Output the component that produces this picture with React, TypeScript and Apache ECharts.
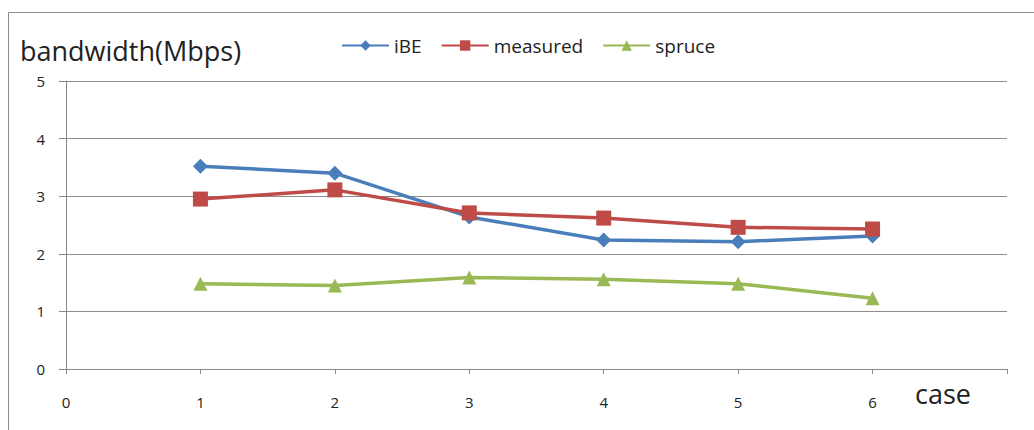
import React, { useEffect, useRef } from "react";
import * as echarts from "echarts";

const cases = [1, 2, 3, 4, 5, 6];
const iBE = [3.52, 3.4, 2.64, 2.24, 2.21, 2.31];
const measured = [2.95, 3.11, 2.71, 2.62, 2.46, 2.43];
const spruce = [1.48, 1.45, 1.59, 1.56, 1.48, 1.23];
const xTicks = [0, 1, 2, 3, 4, 5, 6, 7];
const yTicks = [0, 1, 2, 3, 4, 5];

const pairs = (ys: number[]) => cases.map((c, i) => [c, ys[i]]);

export default function App() {
  const ref = useRef<HTMLDivElement>(null);

  useEffect(() => {
    if (!ref.current) return;
    const chart = echarts.init(ref.current, undefined, { renderer: "svg" });
    const font = "'Open Sans', 'DejaVu Sans', sans-serif";
    const lineSeries = (name: string, data: number[], color: string, symbol: string, size: number) => ({
      name,
      type: "line",
      data: pairs(data),
      symbol,
      symbolSize: size,
      lineStyle: { color, width: 3.5 },
      itemStyle: { color },
    });
    chart.setOption({
      animation: false,
      backgroundColor: "#ffffff",
      textStyle: { fontFamily: font },
      graphic: [
        {
          type: "rect",
          shape: { x: 8.5, y: 12.5, width: 1040, height: 440 },
          style: { fill: "none", stroke: "#8c8c8c", lineWidth: 1 },
          silent: true,
          z: -1,
        },
      ],
      legend: {
        left: 336,
        top: 31,
        itemWidth: 47,
        itemHeight: 13,
        itemGap: 19,
        textStyle: { fontSize: 19, color: "#222", fontFamily: font },
        data: ["iBE", "measured", "spruce"],
      },
      grid: { left: 66, right: 27, top: 81, bottom: 61, containLabel: false },
      xAxis: {
        type: "value",
        min: xTicks[0],
        max: xTicks[xTicks.length - 1],
        interval: 1,
        name: "case",
        nameLocation: "end",
        nameGap: -64,
        nameTextStyle: {
          fontSize: 27,
          color: "#222",
          align: "center",
          verticalAlign: "top",
          padding: [11, 0, 0, 0],
        },
        axisLine: { show: true, lineStyle: { color: "#888", width: 1 } },
        axisTick: { show: true, length: 5, lineStyle: { color: "#888" } },
        axisLabel: {
          margin: 25,
          fontSize: 15,
          color: "#222",
          formatter: (v: number) => (v === 7 ? "" : String(v)),
        },
        splitLine: { show: false },
      },
      yAxis: {
        type: "value",
        min: yTicks[0],
        max: yTicks[yTicks.length - 1],
        interval: 1,
        name: "bandwidth(Mbps)",
        nameLocation: "end",
        nameGap: 17,
        nameTextStyle: {
          fontSize: 27,
          color: "#222",
          align: "left",
          padding: [0, 0, 0, -46],
        },
        axisLine: { show: true, lineStyle: { color: "#888", width: 1 } },
        axisTick: { show: true, length: 7, lineStyle: { color: "#888" } },
        axisLabel: { margin: 21, fontSize: 15, color: "#222" },
        splitLine: { show: true, lineStyle: { color: "#8c8c8c", width: 1 } },
      },
      series: [
        lineSeries("iBE", iBE, "#4a7ebb", "diamond", 15),
        lineSeries("measured", measured, "#be4b48", "rect", 15),
        lineSeries("spruce", spruce, "#98b954", "triangle", 14),
      ],
    });
    return () => chart.dispose();
  }, []);

  return (
    <div
      ref={ref}
      style={{ position: "fixed", left: 0, top: 0, width: 1034, height: 430 }}
    />
  );
}
